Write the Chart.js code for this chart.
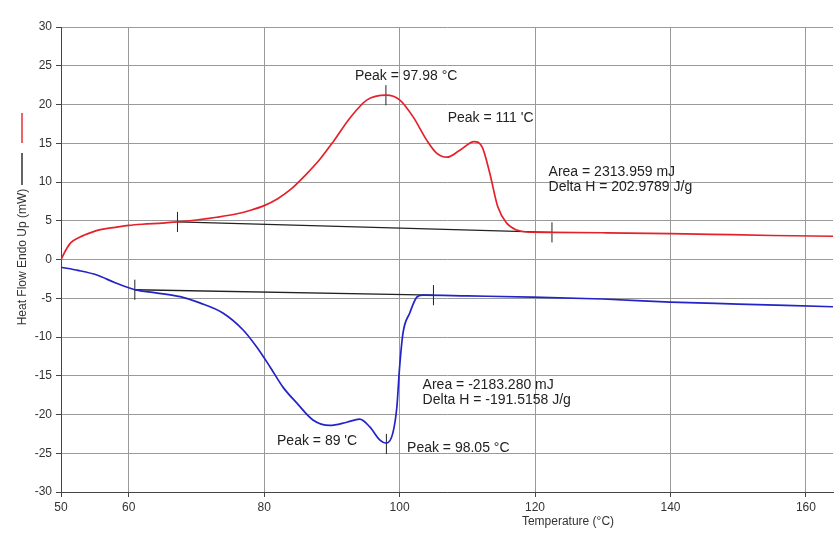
<!DOCTYPE html>
<html>
<head>
<meta charset="utf-8">
<script src="https://cdn.jsdelivr.net/npm/chart.js@4.4.1/dist/chart.umd.min.js"></script>
<style>
  html, body { margin: 0; padding: 0; background: #fff; }
  #wrap { width: 834px; height: 535px; }
</style>
</head>
<body>
<div id="wrap"><canvas id="dscChart" width="834" height="535"></canvas></div>
<script>
// heating scan (red)
var redTemp = [50.0, 50.7, 51.5, 52.8, 54.5, 55.8, 58.0, 60.0, 62.0, 65.0, 67.2, 70.0, 73.0, 76.0, 78.0,
  80.0, 82.0, 84.0, 86.0, 88.2, 90.2, 92.7, 95.2, 98.0, 100.0, 102.0, 104.0, 105.5, 107.0, 108.9, 111.0,
  112.2, 113.3, 114.5, 115.8, 117.3, 118.8, 122.5, 130.0, 140.0, 146.0, 155.0, 164.0];
var redFlow = [0.0, 1.2, 2.2, 2.9, 3.5, 3.85, 4.15, 4.4, 4.55, 4.7, 4.85, 5.1, 5.45, 5.9, 6.35,
  6.95, 7.85, 9.1, 10.8, 12.9, 15.2, 18.3, 20.6, 21.2, 20.6, 18.4, 15.4, 13.7, 13.2, 14.1, 15.2,
  14.5, 11.2, 6.8, 4.7, 3.8, 3.55, 3.5, 3.45, 3.35, 3.25, 3.1, 3.0];

// cooling scan (blue)
var blueTemp = [50.0, 52.5, 55.3, 58.0, 60.9, 64.0, 67.6, 70.5, 73.9, 76.9, 78.9, 80.9, 82.8, 84.8,
  87.2, 89.7, 92.2, 94.1, 95.6, 97.1, 98.05, 99.0, 99.6, 100.0, 100.5, 101.5, 102.6, 103.5,
  110.0, 119.5, 130.0, 140.0, 150.0, 164.0];
var blueFlow = [-1.0, -1.4, -2.0, -3.0, -3.9, -4.3, -4.8, -5.6, -6.9, -9.1, -11.3, -13.9, -16.5, -18.5,
  -20.7, -21.4, -21.0, -20.6, -21.6, -23.3, -23.7, -22.4, -19.0, -13.9, -9.5, -6.9, -4.8, -4.6,
  -4.7, -4.85, -5.1, -5.5, -5.75, -6.1];

// integration baselines
var redBaseTemp = [67.2, 122.5];
var redBaseFlow = [4.85, 3.5];
var blueBaseTemp = [60.9, 105.0];
var blueBaseFlow = [-3.9, -4.6];

// small vertical markers (peaks and integration limits)
var markTemp = [97.98, 67.2, 122.5, 60.9, 105.0, 98.05];
var markFlow = [21.2, 4.85, 3.5, -3.9, -4.6, -23.8];

var xTicks = [50, 60, 80, 100, 120, 140, 160];

var noteText = ["Peak = 97.98 °C", "Peak = 111 'C", "Area = 2313.959 mJ", "Delta H = 202.9789 J/g",
  "Area = -2183.280 mJ", "Delta H = -191.5158 J/g", "Peak = 89 'C", "Peak = 98.05 °C"];
var noteTemp = [93.4, 107.1, 122.0, 122.0, 103.4, 103.4, 81.9, 101.1];
var noteFlow = [23.7, 18.25, 11.3, 9.35, -16.2, -18.1, -23.5, -24.3];

var FONT = "'Liberation Sans', Arial, sans-serif";
var RED = "#e4212b";
var BLUE = "#2323c8";
var BLACK = "#222";

function pairs(xs, ys) {
  return xs.map(function (x, i) { return { x: x, y: ys[i] }; });
}

var datasets = [
  {
    label: "Heating",
    data: pairs(redTemp, redFlow),
    borderColor: RED,
    borderWidth: 1.7,
    cubicInterpolationMode: "monotone",
  },
  {
    label: "Cooling",
    data: pairs(blueTemp, blueFlow),
    borderColor: BLUE,
    borderWidth: 1.7,
    cubicInterpolationMode: "monotone",
  },
  {
    label: "Baseline",
    data: pairs(redBaseTemp, redBaseFlow),
    borderColor: BLACK,
    borderWidth: 1.4,
  },
  {
    label: "Baseline 2",
    data: pairs(blueBaseTemp, blueBaseFlow),
    borderColor: BLACK,
    borderWidth: 1.4,
  },
];

markTemp.forEach(function (t, i) {
  datasets.push({
    label: "mark" + i,
    data: [{ x: t, y: markFlow[i] - 1.3 }, { x: t, y: markFlow[i] + 1.3 }],
    borderColor: BLACK,
    borderWidth: 1,
  });
});

// text notes, axis titles and the little vertical legend on the left
var notesPlugin = {
  id: "notes",
  afterDraw: function (chart) {
    var ctx = chart.ctx;
    var xs = chart.scales.x;
    var ys = chart.scales.y;
    ctx.save();
    ctx.fillStyle = "#222";
    ctx.textBaseline = "middle";
    ctx.textAlign = "left";
    ctx.font = "14px " + FONT;
    noteText.forEach(function (t, i) {
      ctx.fillText(t, xs.getPixelForValue(noteTemp[i]), ys.getPixelForValue(noteFlow[i]));
    });

    ctx.fillStyle = "#333";
    ctx.font = "12px " + FONT;
    ctx.textAlign = "center";
    ctx.fillText("Temperature (°C)", 568, 522);

    ctx.translate(23, 257);
    ctx.rotate(-Math.PI / 2);
    ctx.fillText("Heat Flow Endo Up (mW)", 0, 0);
    ctx.restore();

    ctx.save();
    ctx.lineWidth = 1.4;
    ctx.strokeStyle = RED;
    ctx.beginPath();
    ctx.moveTo(22, 113);
    ctx.lineTo(22, 143);
    ctx.stroke();
    ctx.strokeStyle = BLACK;
    ctx.beginPath();
    ctx.moveTo(22, 153);
    ctx.lineTo(22, 185);
    ctx.stroke();
    ctx.restore();
  },
};

var ctx = document.getElementById("dscChart").getContext("2d");
new Chart(ctx, {
  type: "scatter",
  data: { datasets: datasets },
  options: {
    responsive: false,
    animation: false,
    showLine: true,
    elements: { point: { radius: 0 } },
    layout: { padding: { top: 27, right: 1, left: 0, bottom: 0 } },
    plugins: {
      legend: { display: false },
      tooltip: { enabled: false },
    },
    scales: {
      x: {
        type: "linear",
        min: 50,
        max: 164,
        afterBuildTicks: function (scale) {
          scale.ticks = xTicks.map(function (v) { return { value: v }; });
        },
        afterFit: function (scale) { scale.height = 43; },
        grid: { color: "#9a9a9a", tickColor: "#444", tickLength: 5 },
        border: { color: "#444", width: 1 },
        ticks: { color: "#333", font: { size: 12, family: FONT }, padding: 3, maxRotation: 0 },
      },
      y: {
        min: -30,
        max: 30,
        afterFit: function (scale) { scale.width = 61; },
        grid: { color: "#9a9a9a", tickColor: "#444", tickLength: 5 },
        border: { color: "#444", width: 1 },
        ticks: { stepSize: 5, color: "#333", font: { size: 12, family: FONT }, padding: 4 },
      },
    },
  },
  plugins: [notesPlugin],
});
</script>
</body>
</html>
